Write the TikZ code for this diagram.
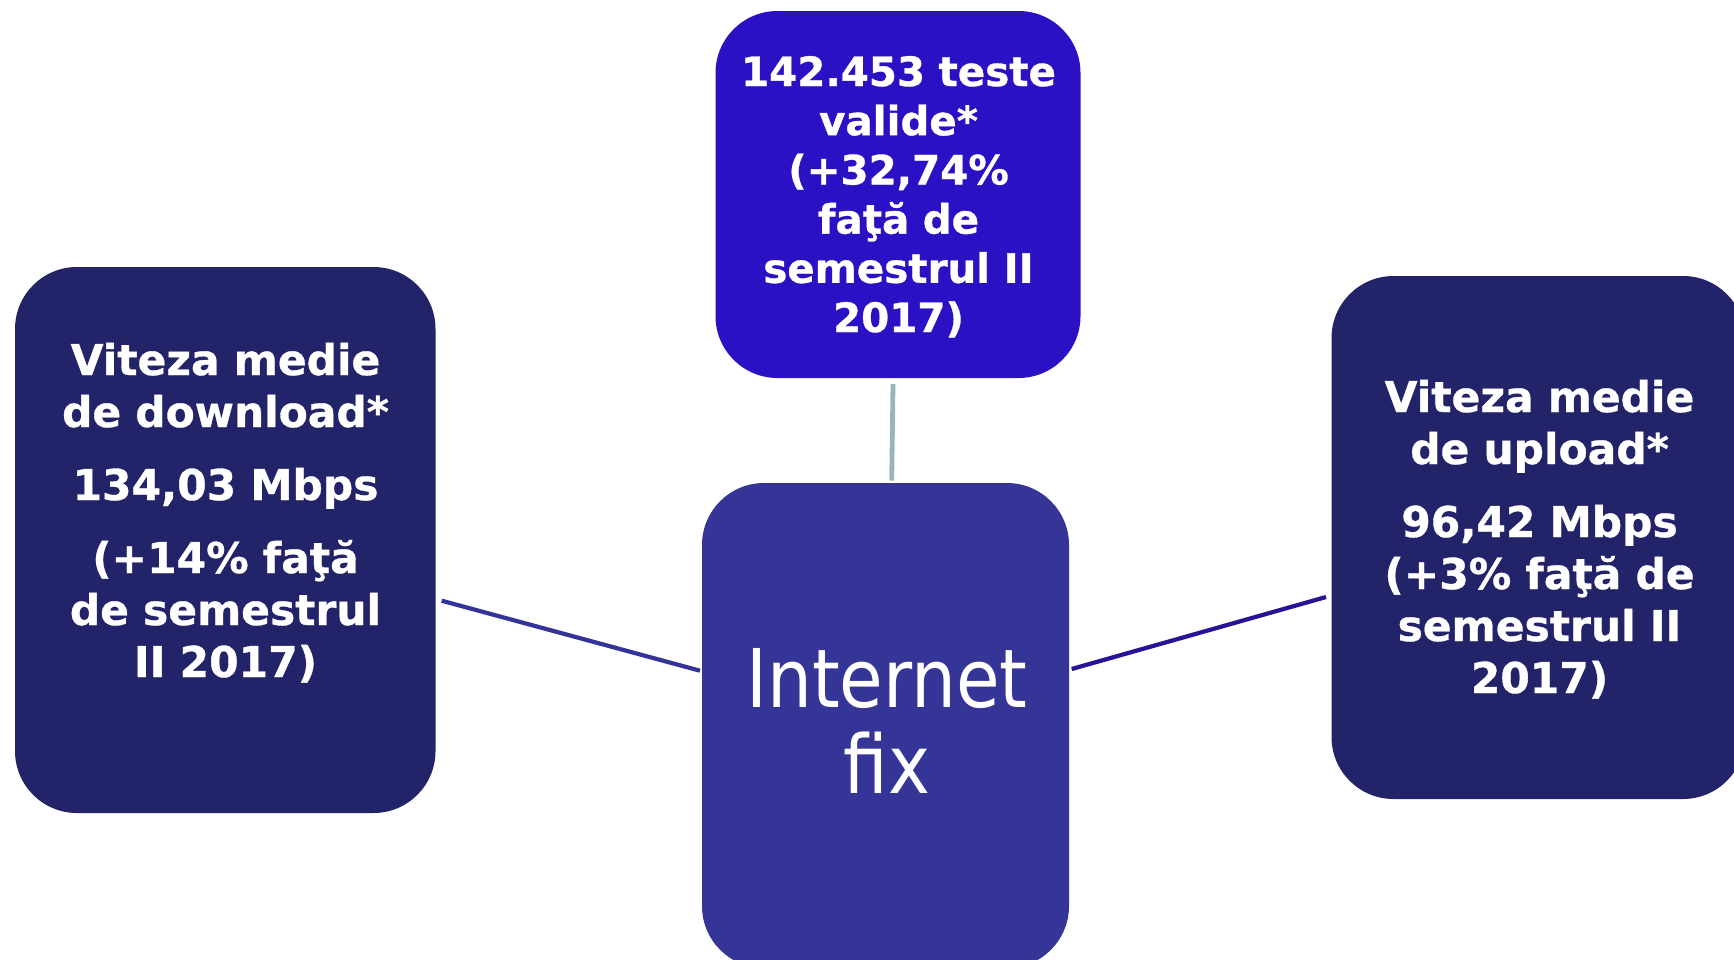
\documentclass[tikz,border=0pt]{standalone}
\usepackage{fontspec}
\setmainfont{DejaVu Sans}[BoldFeatures={FakeBold=0.8}]
\newfontfamily\condfont[FakeStretch=0.875]{DejaVu Sans}
\usetikzlibrary{calc}
\definecolor{boxdark}{RGB}{35,35,105}
\definecolor{topblue}{RGB}{43,17,196}
\definecolor{centerblue}{RGB}{53,53,152}
\definecolor{leftline}{RGB}{51,51,154}
\definecolor{rightline}{RGB}{42,18,150}
\definecolor{topline}{RGB}{155,180,184}
\tikzset{
  rbox/.style={draw=none, rounded corners=31pt, inner sep=0pt, outer sep=0pt},
  sidetext/.style={text=white, inner sep=0pt, text width=200pt, align=center, anchor=base,
    font=\bfseries\fontsize{21.2pt}{26pt}\selectfont},
  toptext/.style={text=white, inner sep=0pt, text width=175pt, align=center, anchor=base,
    font=\bfseries\fontsize{20.2pt}{24.6pt}\selectfont},
  centertext/.style={text=white, inner sep=0pt, text width=175pt, align=center, anchor=base,
    font=\condfont\fontsize{40.5pt}{43pt}\selectfont},
  conn/.style={line width=2.1pt}
}
\begin{document}
\begin{tikzpicture}[x=0.5pt,y=-0.5pt]
\clip (0,0) rectangle (1734,959);
\fill[white] (0,0) rectangle (1734,959);

% boxes
\node[rbox, fill=boxdark, minimum width=210.25pt, minimum height=273pt] (L) at (225.25,540) {};
\node[rbox, fill=topblue, minimum width=182.5pt, minimum height=183.5pt] (T) at (898,194.5) {};
\node[rbox, fill=boxdark, minimum width=206.75pt, minimum height=261.5pt] (R) at (1538.25,537.5) {};
\node[rbox, fill=centerblue, minimum width=183.5pt, minimum height=242.5pt] (C) at (885.5,725.5) {};

% texts
\node[sidetext] (Ltext) at (225.5,375) {Viteza medie\\de download*\\[10.5pt]134,03 Mbps\\[10.5pt](+14\% faţă\\de semestrul\\II 2017)};
\node[toptext] (Ttext) at (898.5,86) {142.453 teste\\valide*\\(+32,74\%\\faţă de\\semestrul II\\2017)};
\node[sidetext] (Rtext) at (1539.5,412) {Viteza medie\\de upload*\\[10.5pt]96,42 Mbps\\(+3\% faţă de\\semestrul II\\2017)};
\node[centertext] (Ctext) at (887,707) {Internet\\fix};

% connector end points
\coordinate (l1) at ([shift={(6.2,60.7)}]L.east);
\coordinate (l2) at ([shift={(-2,-54.8)}]C.west);
\coordinate (r1) at ([shift={(2.7,-56.5)}]C.east);
\coordinate (r2) at ([shift={(-5.5,59.5)}]R.west);
\coordinate (t1) at ([shift={(-5,6)}]T.south);
\coordinate (t2) at ([shift={(6.2,-2.3)}]C.north);

\draw[conn, leftline] (l1) -- (l2);
\draw[conn, rightline] (r1) -- (r2);
\draw[conn, topline, line width=2.4pt] (t1) -- (t2);
\end{tikzpicture}
\end{document}
